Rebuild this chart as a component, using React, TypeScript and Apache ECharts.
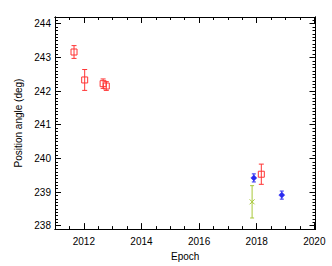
import React, { useEffect, useRef } from "react";
import * as echarts from "echarts";

const xMajorTicks = [2012, 2014, 2016, 2018, 2020];
const yMajorTicks = [238, 239, 240, 241, 242, 243, 244];

// [epoch, position angle, error]
const redSquares = [
  [2011.66, 243.16, 0.19],
  [2012.03, 242.33, 0.31],
  [2012.67, 242.22, 0.14],
  [2012.78, 242.15, 0.13],
  [2018.16, 239.53, 0.3],
];
const blueDiamonds = [
  [2017.9, 239.42, 0.12],
  [2018.87, 238.91, 0.12],
];
const greenCrosses = [[2017.84, 238.71, 0.48]];

const X_MIN = 2011;
const X_MAX = 2020.04;
const Y_MIN = 237.9;
const Y_MAX = 244.2;

const FONT = "Liberation Sans";

function makeRender(kind: string, color: string) {
  return (params: any, api: any) => {
    const x = api.value(0);
    const y = api.value(1);
    const e = api.value(2);
    const c = api.coord([x, y]);
    const t = api.coord([x, y + e]);
    const b = api.coord([x, y - e]);
    const cap = kind === "square" ? 2.5 : 2;
    const ls = { stroke: color, lineWidth: 1 };
    const children: any[] = [
      { type: "line", shape: { x1: c[0], y1: t[1], x2: c[0], y2: b[1] }, style: ls },
      { type: "line", shape: { x1: c[0] - cap, y1: t[1], x2: c[0] + cap, y2: t[1] }, style: ls },
      { type: "line", shape: { x1: c[0] - cap, y1: b[1], x2: c[0] + cap, y2: b[1] }, style: ls },
    ];
    if (kind === "square") {
      children.push({
        type: "rect",
        shape: { x: c[0] - 3, y: c[1] - 3, width: 6, height: 6 },
        style: { fill: "none", stroke: color, lineWidth: 1 },
      });
    } else if (kind === "diamond") {
      children.push({
        type: "polygon",
        shape: { points: [[c[0], c[1] - 3], [c[0] + 3, c[1]], [c[0], c[1] + 3], [c[0] - 3, c[1]]] },
        style: { fill: color, stroke: color, lineWidth: 0.5 },
      });
    } else {
      children.push(
        { type: "line", shape: { x1: c[0] - 2.5, y1: c[1] - 2.5, x2: c[0] + 2.5, y2: c[1] + 2.5 }, style: ls },
        { type: "line", shape: { x1: c[0] - 2.5, y1: c[1] + 2.5, x2: c[0] + 2.5, y2: c[1] - 2.5 }, style: ls }
      );
    }
    return { type: "group", children };
  };
}

export default function App() {
  const ref = useRef<HTMLDivElement>(null);
  useEffect(() => {
    if (!ref.current) return;
    const chart = echarts.init(ref.current, undefined, { renderer: "svg" });
    const axisLine = { show: true, onZero: false, lineStyle: { color: "#000", width: 1 } };
    const baseX = { type: "value", min: X_MIN, max: X_MAX, splitLine: { show: false }, axisLine };
    const baseY = { type: "value", min: Y_MIN, max: Y_MAX, splitLine: { show: false }, axisLine };
    const minorX = {
      ...baseX,
      interval: 0.5,
      axisTick: { show: true, inside: true, length: 3, lineStyle: { color: "#000" } },
      axisLabel: { show: false },
    };
    const majorX = {
      ...baseX,
      axisTick: { show: true, inside: true, length: 6, customValues: xMajorTicks, lineStyle: { color: "#000" } },
    };
    const minorY = {
      ...baseY,
      interval: 0.1,
      axisTick: { show: true, inside: true, length: 3, lineStyle: { color: "#000" } },
      axisLabel: { show: false },
    };
    const majorY = {
      ...baseY,
      axisTick: { show: true, inside: true, length: 6, customValues: yMajorTicks, lineStyle: { color: "#000" } },
    };
    chart.setOption({
      animation: false,
      backgroundColor: "#fff",
      grid: { left: 55, right: 16.5, top: 17, bottom: 36, containLabel: false },
      xAxis: [
        { ...minorX, position: "bottom" },
        {
          ...majorX,
          position: "bottom",
          axisLabel: {
            show: true,
            customValues: xMajorTicks,
            color: "#000",
            fontFamily: FONT,
            fontSize: 10,
            margin: 7,
            formatter: (v: number) => String(Math.round(v)),
          },
          name: "Epoch",
          nameLocation: "middle",
          nameGap: 16,
          nameTextStyle: { color: "#000", fontFamily: FONT, fontSize: 10, verticalAlign: "top" },
        },
        { ...minorX, position: "top" },
        { ...majorX, position: "top", axisLabel: { show: false } },
      ],
      yAxis: [
        { ...minorY, position: "left" },
        {
          ...majorY,
          position: "left",
          axisLabel: {
            show: true,
            customValues: yMajorTicks,
            color: "#000",
            fontFamily: FONT,
            fontSize: 10,
            margin: 4,
            formatter: (v: number) => String(Math.round(v)),
          },
          name: "Position angle (deg)",
          nameLocation: "middle",
          nameGap: 22,
          nameTextStyle: { color: "#000", fontFamily: FONT, fontSize: 10 },
        },
        { ...minorY, position: "right" },
        { ...majorY, position: "right", axisLabel: { show: false } },
      ],
      series: [
        { type: "custom", xAxisIndex: 0, yAxisIndex: 0, renderItem: makeRender("square", "#ff3535"), data: redSquares },
        { type: "custom", xAxisIndex: 0, yAxisIndex: 0, renderItem: makeRender("diamond", "#2a2af0"), data: blueDiamonds },
        { type: "custom", xAxisIndex: 0, yAxisIndex: 0, renderItem: makeRender("cross", "#a8c83a"), data: greenCrosses },
      ],
    });
    return () => chart.dispose();
  }, []);
  return <div ref={ref} style={{ position: "fixed", left: 0, top: 0, width: 332, height: 266 }} />;
}
